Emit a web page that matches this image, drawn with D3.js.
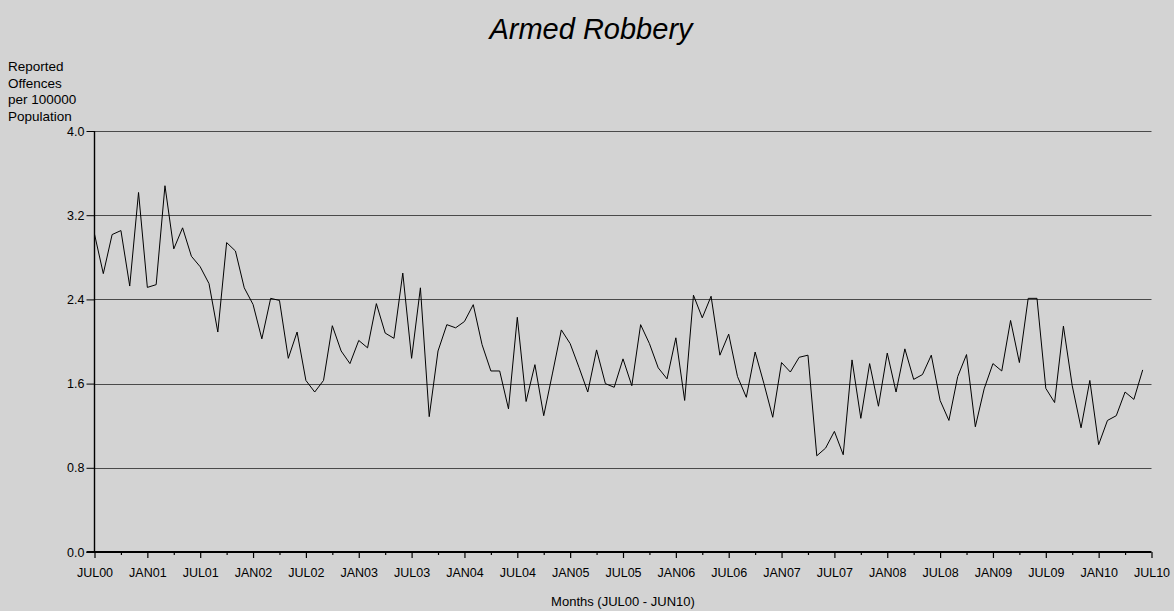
<!DOCTYPE html>
<html>
<head>
<meta charset="utf-8">
<script src="https://cdn.jsdelivr.net/npm/d3@7"></script>
<style>
html,body{margin:0;padding:0;background:#d3d3d3;}
svg{display:block;}
text{font-family:"Liberation Sans",Arial,sans-serif;fill:#000;}
</style>
</head>
<body>
<svg id="chart" width="1174" height="611"></svg>
<script>
const title = "Armed Robbery";
const yLabelLines = ["Reported", "Offences", "per 100000", "Population"];
const xAxisTitle = "Months (JUL00 - JUN10)";
const xTickLabels = ["JUL00","JAN01","JUL01","JAN02","JUL02","JAN03","JUL03","JAN04","JUL04","JAN05","JUL05","JAN06","JUL06","JAN07","JUL07","JAN08","JUL08","JAN09","JUL09","JAN10","JUL10"];
const yTicks = [0.0, 0.8, 1.6, 2.4, 3.2, 4.0];
// monthly rate, JUL00 .. JUN10 (120 months)
const values = [
  3.02, 2.645, 3.016, 3.054, 2.527, 3.416, 2.514, 2.54, 3.48, 2.88, 3.08, 2.81,
  2.71, 2.55, 2.09, 2.94, 2.86, 2.51, 2.352, 2.025, 2.41, 2.39, 1.84, 2.09,
  1.63, 1.52, 1.63, 2.15, 1.91, 1.79, 2.01, 1.94, 2.36, 2.08, 2.03, 2.65,
  1.84, 2.51, 1.286, 1.91, 2.16, 2.13, 2.19, 2.35, 1.97, 1.72, 1.72, 1.36,
  2.23, 1.43, 1.78, 1.295, 1.70, 2.11, 1.98, 1.755, 1.52, 1.92, 1.60, 1.565,
  1.835, 1.58, 2.16, 1.98, 1.75, 1.645, 2.035, 1.44, 2.44, 2.225, 2.43, 1.87,
  2.07, 1.667, 1.47, 1.90, 1.60, 1.28, 1.80, 1.71, 1.85, 1.87, 0.914, 0.987,
  1.146, 0.924, 1.825, 1.27, 1.79, 1.385, 1.89, 1.52, 1.93, 1.64, 1.686, 1.87,
  1.44, 1.25, 1.667, 1.876, 1.19, 1.55, 1.79, 1.72, 2.2, 1.80, 2.41, 2.41,
  1.555, 1.42, 2.146, 1.58, 1.18, 1.63, 1.02, 1.25, 1.295, 1.52, 1.45, 1.73
];

const svg = d3.select("#chart");
const mLeft = 94.5, mRight = 1151.5, mTop = 131, mBottom = 552;

const x = d3.scaleLinear().domain([0, 120]).range([mLeft, mRight]);
const y = d3.scaleLinear().domain([0, 4]).range([mBottom, mTop]);

// gridlines
svg.append("g").selectAll("line").data(yTicks.filter(d => d > 0)).join("line")
  .attr("x1", mLeft).attr("x2", mRight)
  .attr("y1", d => Math.round(y(d)) + 0.5).attr("y2", d => Math.round(y(d)) + 0.5)
  .attr("stroke", "#4a4a4a").attr("stroke-width", 1.2);

// y axis
const yAxis = d3.axisLeft(y).tickValues(yTicks).tickFormat(d3.format(".1f")).tickSize(8).tickPadding(2);
const gy = svg.append("g").attr("transform", `translate(${mLeft},0)`).call(yAxis);
gy.select(".domain").attr("stroke", "#000").attr("stroke-width", 1.4).attr("d", `M0,${mTop}V${mBottom}`);
gy.selectAll(".tick line").attr("stroke", "#000");
gy.selectAll(".tick text").attr("font-size", 12.5).attr("font-family", "Liberation Sans, Arial, sans-serif").attr("fill", "#000");

// x axis
const xAxis = d3.axisBottom(x).tickValues(d3.range(0, 121, 3)).tickSize(0)
  .tickFormat(d => d % 6 === 0 ? xTickLabels[d / 6] : "").tickPadding(16);
const gx = svg.append("g").attr("transform", `translate(0,${mBottom})`).call(xAxis);
gx.select(".domain").attr("stroke", "#000").attr("stroke-width", 2).attr("d", `M${mLeft - 8},0H${mRight}`);
gx.selectAll(".tick line").attr("stroke", "#000").attr("stroke-width", 1.2)
  .attr("y2", d => d % 6 === 0 ? 6 : 3);
gx.selectAll(".tick text").attr("font-size", 12.5).attr("font-family", "Liberation Sans, Arial, sans-serif").attr("fill", "#000");

// data line
const line = d3.line().x((d, i) => x(i)).y(d => y(d));
svg.append("path").datum(values).attr("d", line)
  .attr("fill", "none").attr("stroke", "#000").attr("stroke-width", 1).attr("stroke-linejoin", "miter");

// title
svg.append("text").attr("x", 591).attr("y", 39).attr("text-anchor", "middle")
  .attr("font-size", 29).attr("font-style", "italic").text(title);

// y label
svg.append("g").selectAll("text").data(yLabelLines).join("text")
  .attr("x", 8).attr("y", (d, i) => 71 + i * 16.5)
  .attr("font-size", 13.5).text(d => d);

// x axis title
svg.append("text").attr("x", 623).attr("y", 606).attr("text-anchor", "middle")
  .attr("font-size", 13).text(xAxisTitle);
</script>
</body>
</html>
